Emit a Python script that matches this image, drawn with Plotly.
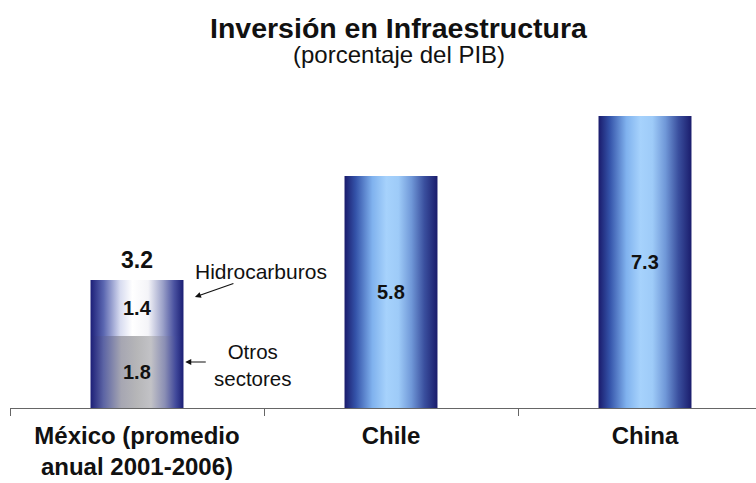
import plotly.graph_objects as go

# Categorías del eje horizontal
categorias = ["México (promedio<br>anual 2001-2006)", "Chile", "China"]

# México: inversión desglosada (otros sectores, hidrocarburos) y total
mexico_segmentos = [1.8, 1.4]
mexico_etiquetas = ["Otros<br>sectores", "Hidrocarburos"]
mexico_total = 3.2

# Chile y China: inversión total
paises_valores = [5.8, 7.3]

TITULO = "Inversión en Infraestructura"
SUBTITULO = "(porcentaje del PIB)"

FUENTE = "Liberation Sans, Arial, sans-serif"
MEDIO_ANCHO = 0.183

# Degradados horizontales de las barras
azul = [[0.0, "#1a1b6c"], [0.12, "#3453a9"], [0.3, "#80b2ee"], [0.45, "#a6d2fc"],
        [0.58, "#9ecbf8"], [0.72, "#7098d8"], [0.86, "#3a4f9e"], [1.0, "#1a1c6c"]]
blanco = [[0.0, "#1c1f78"], [0.14, "#5a66b0"], [0.32, "#d8dcf0"], [0.45, "#ffffff"],
          [0.62, "#f4f4f8"], [0.78, "#9aa0c8"], [0.9, "#4a52a0"], [1.0, "#1a1e74"]]
gris = [[0.0, "#1c1f78"], [0.14, "#5c64a4"], [0.33, "#a6a6b2"], [0.5, "#b6b6b8"],
        [0.65, "#c2c2c6"], [0.8, "#8a8eb4"], [0.92, "#40489a"], [1.0, "#1a1e74"]]


def barra(xc, y0, y1, escala):
    return go.Scatter(
        x=[xc - MEDIO_ANCHO, xc + MEDIO_ANCHO, xc + MEDIO_ANCHO, xc - MEDIO_ANCHO, xc - MEDIO_ANCHO],
        y=[y0, y0, y1, y1, y0],
        mode="lines", line=dict(width=0), fill="toself",
        fillgradient=dict(type="horizontal", colorscale=escala),
        hoverinfo="skip", showlegend=False,
    )


fig = go.Figure()
anotaciones = []

# Barra apilada de México
base = 0.0
for valor, escala in zip(mexico_segmentos, [gris, blanco]):
    fig.add_trace(barra(0, base, base + valor, escala))
    anotaciones.append(dict(x=0, y=base + valor / 2, text=f"<b>{valor:.1f}</b>",
                            showarrow=False, font=dict(size=20, color="#111")))
    base += valor
anotaciones.append(dict(x=0, y=mexico_total, text=f"<b>{mexico_total:.1f}</b>",
                        yanchor="bottom", yshift=5, showarrow=False,
                        font=dict(size=23, color="#111")))

# Barras de Chile y China
for i, valor in enumerate(paises_valores, start=1):
    fig.add_trace(barra(i, 0, valor, azul))
    anotaciones.append(dict(x=i, y=valor / 2, text=f"<b>{valor:.1f}</b>",
                            showarrow=False, font=dict(size=20, color="#111")))

# Rótulos de los componentes de México con sus flechas
anotaciones += [
    dict(x=0.49, y=3.42, text=mexico_etiquetas[1], showarrow=False,
         font=dict(size=21, color="#111")),
    dict(x=0.228, y=2.775, ax=40, ay=-14, text="", showarrow=True,
         arrowhead=2, arrowsize=1, arrowwidth=1.2, arrowcolor="#111"),
    dict(x=0.455, y=1.08, text=mexico_etiquetas[0], showarrow=False,
         font=dict(size=20.5, color="#111")),
    dict(x=0.19, y=1.15, ax=22, ay=0, text="", showarrow=True,
         arrowhead=2, arrowsize=1, arrowwidth=1.2, arrowcolor="#111"),
]

# Título y subtítulo
anotaciones += [
    dict(xref="paper", yref="paper", x=0.521, y=1.292, text=f"<b>{TITULO}</b>",
         showarrow=False, font=dict(size=28.5, color="#111")),
    dict(xref="paper", yref="paper", x=0.521, y=1.198, text=SUBTITULO,
         showarrow=False, font=dict(size=24, color="#111")),
]

fig.update_layout(
    width=756, height=483,
    margin=dict(l=10, r=0, t=100, b=75),
    paper_bgcolor="white", plot_bgcolor="white",
    font=dict(family=FUENTE, color="#111"),
    annotations=anotaciones,
    showlegend=False,
)
fig.update_xaxes(
    range=[-0.5, 2.437], tickmode="array", tickvals=[0, 1, 2],
    ticktext=[f"<b>{c}</b>" for c in categorias], ticks="",
    tickfont=dict(size=24, color="#111"), ticklabelstandoff=6,
    showline=True, linecolor="#666", linewidth=1, showgrid=False, zeroline=False,
    minor=dict(tickmode="array", tickvals=[-0.5, 0.5, 1.5, 2.5], ticks="outside",
               ticklen=7, tickcolor="#666", showgrid=False),
    fixedrange=True,
)
fig.update_yaxes(range=[0, 7.7], visible=False, fixedrange=True)

fig.write_html("out.html")
